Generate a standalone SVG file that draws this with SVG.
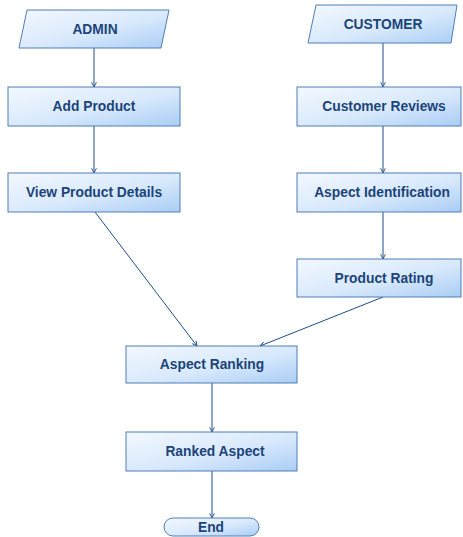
<svg xmlns="http://www.w3.org/2000/svg" width="463" height="537" viewBox="0 0 463 537">
  <defs>
    <linearGradient id="fillBlue" x1="0" y1="0" x2="1" y2="1">
      <stop offset="0" stop-color="#f3f8ff"/>
      <stop offset="0.55" stop-color="#d8e9fc"/>
      <stop offset="1" stop-color="#aacdf5"/>
    </linearGradient>
    <marker id="arrow" viewBox="0 0 10 10" refX="9" refY="5" markerWidth="6" markerHeight="6" orient="auto" markerUnits="userSpaceOnUse">
      <path d="M1,1 L9,5 L1,9" fill="none" stroke="#1f4f8a" stroke-width="1.5"/>
    </marker>
  </defs>
  <style>
    .shape { fill: url(#fillBlue); stroke: #4e7fb6; stroke-width: 1; }
    .label { font-family: "Liberation Sans", Arial, sans-serif; font-weight: bold; font-size: 13.8px; fill: #1c4479; text-anchor: middle; }
    .edge { fill: none; stroke: #1f4f8a; stroke-width: 1; marker-end: url(#arrow); }
  </style>

  <g id="connectors">
    <line class="edge" x1="94" y1="48" x2="94" y2="87"/>
    <line class="edge" x1="94" y1="126" x2="94" y2="173"/>
    <line class="edge" x1="95" y1="212" x2="197" y2="346"/>
    <line class="edge" x1="383" y1="43" x2="383" y2="87"/>
    <line class="edge" x1="383" y1="126" x2="383" y2="173"/>
    <line class="edge" x1="383" y1="212" x2="383" y2="259"/>
    <line class="edge" x1="383" y1="297" x2="260" y2="346"/>
    <line class="edge" x1="212" y1="383" x2="212" y2="432"/>
    <line class="edge" x1="212" y1="471" x2="212" y2="518"/>
  </g>

  <g id="admin">
    <polygon class="shape" points="27,10 169,10 161,48 19,48"/>
    <text class="label" x="95" y="34">ADMIN</text>
  </g>
  <g id="add-product">
    <rect class="shape" x="8" y="87" width="172" height="39"/>
    <text class="label" x="94" y="111">Add Product</text>
  </g>
  <g id="view-product-details">
    <rect class="shape" x="8" y="173" width="172" height="39"/>
    <text class="label" x="94" y="197">View Product Details</text>
  </g>

  <g id="customer">
    <polygon class="shape" points="316,5 457,5 451,43 308,43"/>
    <text class="label" x="383" y="29">CUSTOMER</text>
  </g>
  <g id="customer-reviews">
    <rect class="shape" x="297" y="87" width="164" height="39"/>
    <text class="label" x="384" y="111">Customer Reviews</text>
  </g>
  <g id="aspect-identification">
    <rect class="shape" x="297" y="173" width="164" height="39"/>
    <text class="label" x="382" y="197">Aspect Identification</text>
  </g>
  <g id="product-rating">
    <rect class="shape" x="297" y="259" width="164" height="38"/>
    <text class="label" x="384" y="283">Product Rating</text>
  </g>

  <g id="aspect-ranking">
    <rect class="shape" x="126" y="346" width="171" height="37"/>
    <text class="label" x="212" y="369">Aspect Ranking</text>
  </g>
  <g id="ranked-aspect">
    <rect class="shape" x="126" y="432" width="171" height="39"/>
    <text class="label" x="215" y="456">Ranked Aspect</text>
  </g>
  <g id="end">
    <rect class="shape" x="164" y="518" width="95" height="18" rx="9" ry="9"/>
    <text class="label" x="211" y="532">End</text>
  </g>
</svg>
